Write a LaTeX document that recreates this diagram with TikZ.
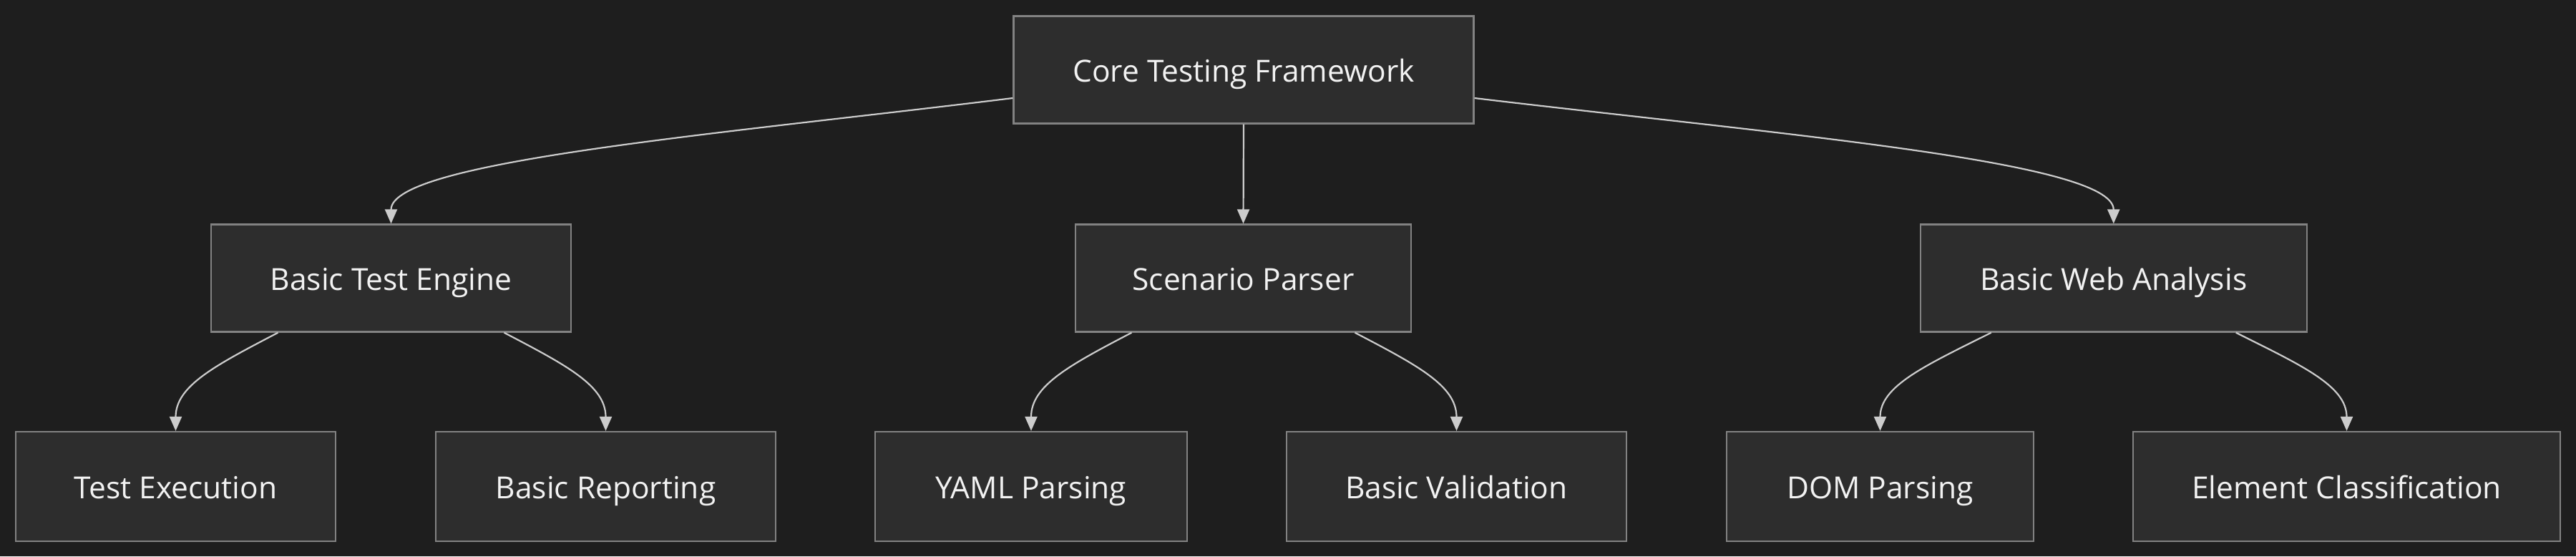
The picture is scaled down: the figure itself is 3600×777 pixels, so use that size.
\documentclass[tikz,border=0pt]{standalone}
\usepackage{fontspec}
\setmainfont{Open Sans}
\usetikzlibrary{arrows.meta}
\definecolor{bgc}{HTML}{1E1E1E}
\definecolor{boxfill}{HTML}{2D2D2D}
\definecolor{boxline}{HTML}{828282}
\definecolor{edgec}{HTML}{CCCCCC}
\definecolor{txt}{HTML}{F2F2F2}
\tikzset{
  box/.style={draw=boxline, line width=2.2pt, fill=boxfill, minimum height=150pt,
    inner sep=0pt, text=txt, font=\fontsize{42.5}{50}\selectfont,
    text height=33pt, text depth=0pt},
  edge/.style={draw=edgec, line width=2.2pt, -{Triangle[length=20pt,width=17pt]}}
}
\begin{document}
\begin{tikzpicture}[x=1pt,y=-1pt]
\fill[bgc] (0,0) rectangle (3600,777);
\useasboundingbox (0,0) rectangle (3600,777);
% level 0
\node[box, minimum width=643pt] (core) at (1738,97.5) {Core Testing Framework};
% level 1
\node[box, minimum width=503pt] (bte) at (546.5,388.5) {Basic Test Engine};
\node[box, minimum width=469pt] (sp) at (1737.5,388.5) {Scenario Parser};
\node[box, minimum width=540pt] (bwa) at (2953.75,388.5) {Basic Web Analysis};
% level 2
\node[box, minimum width=447pt, minimum height=153pt] (te) at (245.5,679.5) {Test Execution};
\node[box, minimum width=475pt, minimum height=153pt] (br) at (846.5,679.5) {Basic Reporting};
\node[box, minimum width=436pt, minimum height=153pt] (yaml) at (1441,679.5) {YAML Parsing};
\node[box, minimum width=475pt, minimum height=153pt] (bv) at (2035.5,679.5) {Basic Validation};
\node[box, minimum width=429pt, minimum height=153pt] (dom) at (2627.5,679.5) {DOM Parsing};
\node[box, minimum width=597pt, minimum height=153pt] (ec) at (3279.5,679.5) {Element Classification};
% top edges
\draw[edge] ([yshift=-39.5pt]core.west) .. controls +(-416,51) and +(0,-87) .. (bte.north);
\draw[edge] (core.south) -- (sp.north);
\draw[edge] ([yshift=-39.5pt]core.east) .. controls +(428,51) and +(0,-87) .. (bwa.north);
% lower edges
\draw[edge] ([xshift=-158pt]bte.south) .. controls +(-88,46) and +(0,-63) .. (te.north);
\draw[edge] ([xshift=158pt]bte.south) .. controls +(88,46) and +(0,-63) .. (br.north);
\draw[edge] ([xshift=-156pt]sp.south) .. controls +(-88,46) and +(0,-63) .. (yaml.north);
\draw[edge] ([xshift=156pt]sp.south) .. controls +(88,46) and +(0,-63) .. (bv.north);
\draw[edge] ([xshift=-171pt]bwa.south) .. controls +(-92,46) and +(0,-63) .. (dom.north);
\draw[edge] ([xshift=171pt]bwa.south) .. controls +(92,46) and +(0,-63) .. (ec.north);
\end{tikzpicture}
\end{document}
